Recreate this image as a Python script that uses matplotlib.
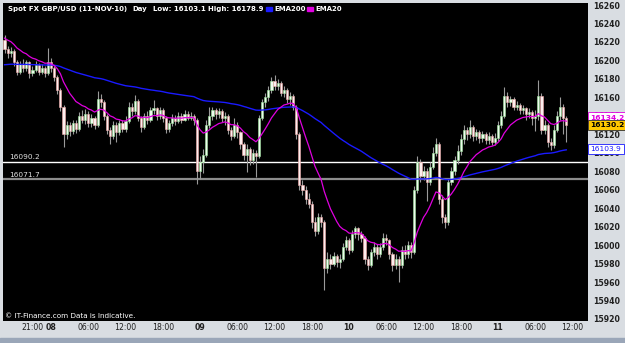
import numpy as np
import pandas as pd
import matplotlib
matplotlib.use('Agg')
import matplotlib.pyplot as plt

# GBP/USD 30 minute candles (price x 10000)
first_open = 16222
closes = [16212, 16208, 16210, 16198, 16188, 16196, 16192, 16198, 16186, 16190,
          16195, 16188, 16192, 16186, 16198, 16192, 16182, 16168, 16150, 16120,
          16130, 16124, 16132, 16126, 16140, 16136, 16142, 16132, 16138, 16130,
          16158, 16155, 16140, 16125, 16118, 16130, 16122, 16132, 16126, 16134,
          16150, 16145, 16156, 16138, 16128, 16140, 16135, 16146, 16148, 16140,
          16146, 16138, 16126, 16132, 16138, 16134, 16140, 16136, 16142, 16138,
          16140, 16136, 16080, 16090, 16098, 16130, 16140, 16146, 16142, 16145,
          16138, 16140, 16125, 16118, 16130, 16122, 16110, 16098, 16104, 16092,
          16100, 16096, 16138, 16155, 16160, 16168, 16178, 16172, 16176, 16165,
          16168, 16158, 16162, 16150, 16120, 16065, 16060, 16050, 16045, 16025,
          16015, 16030, 16025, 15975, 15985, 15980, 15988, 15982, 15985, 15998,
          16005, 15995, 16012, 16018, 16012, 16008, 15985, 15978, 15992, 15998,
          15990, 15998, 16008, 16005, 15990, 15978, 15985, 15978, 15995, 15990,
          16000, 15992, 16060, 16090, 16075, 16080, 16068, 16085, 16100, 16110,
          16050, 16030, 16025, 16068, 16080, 16092, 16102, 16115, 16125, 16120,
          16128, 16118, 16122, 16116, 16120, 16114, 16118, 16112, 16116, 16130,
          16140, 16162, 16155, 16158, 16150, 16152, 16146, 16148, 16142, 16144,
          16138, 16140, 16162, 16125, 16130, 16112, 16108, 16125, 16140, 16150,
          16138, 16130.2]
highs = [16228, 16216, 16215, 16212, 16200, 16199, 16202, 16201, 16199, 16194,
         16199, 16197, 16196, 16194, 16214, 16203, 16194, 16184, 16170, 16152,
         16134, 16133, 16136, 16135, 16144, 16146, 16147, 16145, 16142, 16140,
         16167, 16164, 16157, 16142, 16128, 16134, 16133, 16136, 16135, 16140,
         16155, 16154, 16163, 16158, 16140, 16143, 16145, 16150, 16157, 16150,
         16150, 16148, 16140, 16136, 16142, 16141, 16144, 16143, 16146, 16145,
         16144, 16142, 16138, 16096, 16104, 16135, 16150, 16150, 16149, 16149,
         16147, 16144, 16142, 16128, 16138, 16133, 16124, 16112, 16110, 16106,
         16104, 16103, 16141, 16158, 16165, 16172, 16182, 16184, 16180, 16178,
         16172, 16170, 16166, 16164, 16152, 16122, 16070, 16064, 16056, 16048,
         16030, 16035, 16034, 16027, 15992, 15990, 15993, 15990, 15990, 16002,
         16010, 16008, 16016, 16021, 16020, 16015, 16010, 15988, 15996, 16003,
         16001, 16002, 16013, 16012, 16007, 15993, 15990, 15988, 15999, 16000,
         16004, 16003, 16064, 16097, 16093, 16086, 16083, 16090, 16106, 16116,
         16112, 16054, 16034, 16072, 16085, 16096, 16108, 16120, 16130, 16128,
         16135, 16130, 16126, 16125, 16124, 16122, 16122, 16120, 16121, 16134,
         16145, 16171, 16166, 16162, 16160, 16156, 16154, 16152, 16150, 16148,
         16146, 16146, 16179, 16165, 16135, 16132, 16116, 16130, 16145, 16160,
         16153, 16140]
lows = [16208, 16203, 16204, 16194, 16184, 16185, 16188, 16189, 16181, 16183,
        16187, 16184, 16185, 16182, 16184, 16188, 16178, 16164, 16145, 16106,
        16115, 16118, 16120, 16121, 16124, 16132, 16131, 16128, 16128, 16126,
        16128, 16150, 16136, 16120, 16110, 16115, 16112, 16119, 16122, 16123,
        16132, 16140, 16142, 16134, 16122, 16126, 16131, 16133, 16142, 16136,
        16137, 16133, 16121, 16123, 16129, 16130, 16132, 16132, 16134, 16135,
        16135, 16130, 16066, 16072, 16078, 16095, 16127, 16136, 16137, 16138,
        16133, 16130, 16120, 16114, 16116, 16116, 16104, 16092, 16079, 16087,
        16088, 16074, 16094, 16135, 16150, 16156, 16165, 16168, 16168, 16161,
        16160, 16154, 16152, 16146, 16115, 16060, 16054, 16045, 16040, 16018,
        16010, 16012, 16020, 15951, 15970, 15974, 15977, 15976, 15975, 15983,
        15995, 15990, 15993, 16008, 16006, 16003, 15980, 15973, 15976, 15988,
        15985, 15987, 15995, 16000, 15985, 15972, 15974, 15960, 15975, 15985,
        15986, 15986, 15990, 16056, 16068, 16070, 16048, 16065, 16082, 16096,
        16044, 16024, 16019, 16022, 16065, 16076, 16088, 16098, 16110, 16114,
        16116, 16113, 16114, 16111, 16112, 16109, 16110, 16108, 16108, 16113,
        16127, 16138, 16150, 16151, 16146, 16146, 16142, 16142, 16136, 16138,
        16130, 16124, 16136, 16120, 16120, 16106, 16103, 16105, 16122, 16135,
        16120, 16112]

ema200_start = 16195   # value of the blue line at the left edge
ema20_start = 16226    # value of the magenta line at the left edge
ema200_last = 16103.9
support_levels = [16090.2, 16071.7]
day_low = 16103.1
day_high = 16178.9
yticks = list(range(15920, 16261, 20))
# x tick labels: (candle index, label, bold)
xlabels = [(8, '21:00', False), (14, '08', True), (26, '06:00', False), (38, '12:00', False),
           (50, '18:00', False), (62, '09', True), (74, '06:00', False), (86, '12:00', False),
           (98, '18:00', False), (110, '10', True), (122, '06:00', False), (134, '12:00', False),
           (146, '18:00', False), (158, '11', True), (170, '06:00', False), (182, '12:00', False)]

closes = np.array(closes, dtype=float)
opens = np.concatenate([[first_open], closes[:-1]])
highs = np.array(highs, dtype=float)
lows = np.array(lows, dtype=float)
idx = np.arange(len(closes))

s = pd.Series(closes)
ema20 = pd.concat([pd.Series([ema20_start]), s]).ewm(span=14, adjust=False).mean().values[1:]
ema200 = pd.concat([pd.Series([ema200_start]), s]).ewm(span=100, adjust=False).mean().values[1:]

fig = plt.figure(figsize=(6.25, 3.43), dpi=100)
fig.patch.set_facecolor('#d9dde2')
W, H = 625, 343
ax = fig.add_axes([3 / W, 22 / H, 585 / W, 318 / H])
ax.set_facecolor('black')
for sp in ax.spines.values():
    sp.set_visible(False)

ax.set_xlim(-0.5, 188)
ax.set_ylim(15917.8, 16262.2)

# levels
ax.axhline(support_levels[0], color='white', lw=1.0, zorder=1)
ax.axhline(support_levels[1], color='#8c8c8c', lw=1.6, zorder=1)
ax.text(1.5, support_levels[0] + 1.5, '16090.2', color='#e0e0e0', fontsize=5.3, va='bottom')
ax.text(1.5, support_levels[1] + 1.5, '16071.7', color='#e0e0e0', fontsize=5.3, va='bottom')

# candles
up = closes >= opens
ax.vlines(idx, lows, highs, color='#9a9a9a', lw=0.8, zorder=2)
body_h = np.maximum(np.abs(closes - opens), 1.2)
ax.bar(idx[up], body_h[up], bottom=np.minimum(opens, closes)[up], width=0.7,
       color='#eefcee', edgecolor='#9be39b', linewidth=0.4, zorder=3)
ax.bar(idx[~up], body_h[~up], bottom=np.minimum(opens, closes)[~up], width=0.7,
       color='#fdeeee', edgecolor='#f0a8a8', linewidth=0.4, zorder=3)

ax.plot(idx, ema200, color='#1a1aff', lw=1.0, zorder=4)
ax.plot(idx, ema20, color='#e000e0', lw=0.9, zorder=4)

# right axis labels; the price boxes below sit on top of some of them
ax.set_yticks(yticks)
ax.yaxis.tick_right()
ax.tick_params(axis='y', length=0, pad=4, labelsize=5.6, labelcolor='#202020')
for lab in ax.get_yticklabels():
    lab.set_fontweight('bold')
    lab.set_zorder(1)
ax.set_xticks([])

# price boxes on the right
box = dict(xycoords=('axes fraction', 'data'), xytext=(1.8, 0), textcoords='offset points',
           fontsize=5.4, va='center', ha='left', annotation_clip=False, zorder=10)
ax.annotate('%.1f' % ema20[-1], xy=(1.0, ema20[-1] + 4), color='#e000e0', fontweight='bold',
            bbox=dict(boxstyle='square,pad=0.3', fc='white', ec='#e000e0', lw=0.6), **box)
ax.annotate('%.1f' % closes[-1], xy=(1.0, closes[-1]), color='black', fontweight='bold',
            bbox=dict(boxstyle='square,pad=0.3', fc='#ffc800', ec='#303030', lw=0.6), **box)
ax.annotate('%.1f' % ema200_last, xy=(1.0, ema200_last), color='#1a1aff',
            bbox=dict(boxstyle='square,pad=0.3', fc='white', ec='#1a1aff', lw=0.6), **box)

# header text
def px(x, y):
    return x / W, 1 - y / H

tk = dict(color='white', fontsize=5.0, fontweight='bold', va='center', ha='left')
fig.text(*px(8, 9), 'Spot FX GBP/USD (11-NOV-10)', **tk)
fig.text(*px(132, 9), 'Day', **tk)
fig.text(*px(153, 9), 'Low: %.1f' % day_low, **tk)
fig.text(*px(208, 9), 'High: %.1f' % day_high, **tk)
fig.add_artist(plt.Rectangle(px(266, 11), 6 / W, 4 / H, transform=fig.transFigure,
                             color='#1a1aff'))
fig.text(*px(274, 9), 'EMA200', **tk)
fig.add_artist(plt.Rectangle(px(307, 11), 6 / W, 4 / H, transform=fig.transFigure,
                             color='#e000e0'))
fig.text(*px(315, 9), 'EMA20', **tk)
fig.text(*px(5, 316), '\u00a9 IT-Finance.com Data is Indicative.', color='white',
         fontsize=5.2, va='center', ha='left')

# time axis labels
for i, lab, bold in xlabels:
    xf = (3 + (4.5 + 3.104 * i)) / W
    fig.text(xf, 1 - 327 / H, lab, fontsize=5.6, color='#202020',
             fontweight='bold' if bold else 'normal', ha='center', va='center')

# bottom strip
fig.add_artist(plt.Rectangle((0, 0), 1, 5 / H, transform=fig.transFigure,
                             color='#9aa6b8', zorder=0))

fig.savefig('out.png', dpi=100, facecolor=fig.get_facecolor())
